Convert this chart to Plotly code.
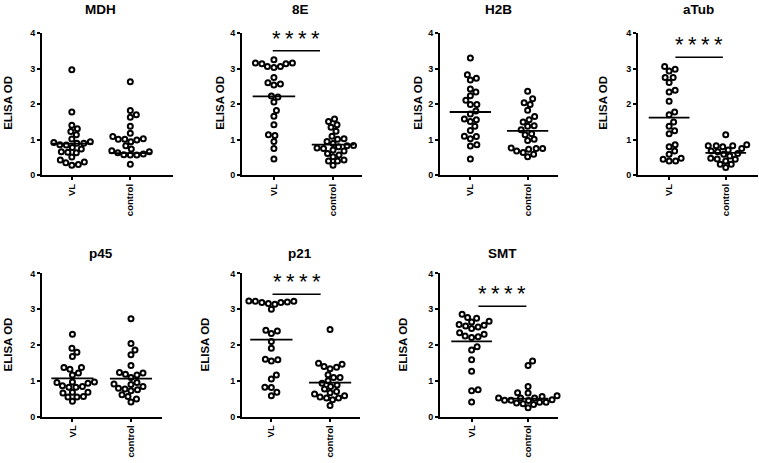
import numpy as np
import plotly.graph_objects as go

W, H = 759, 463

# ---------------- data ----------------
panels = ["MDH", "8E", "H2B", "aTub", "p45", "p21", "SMT"]
groups = ["VL", "control"]

MDH_VL = [2.97, 1.78, 1.41, 1.31, 1.23, 1.14, 1.02, 0.92, 0.90, 0.90, 0.94, 0.86, 0.85, 0.78, 0.74,
          0.65, 0.63, 0.66, 0.51, 0.43, 0.35, 0.37, 0.30, 0.28]
MDH_CTRL = [2.63, 1.82, 1.70, 1.63, 1.38, 1.18, 1.09, 1.03, 1.01, 0.99, 1.01, 0.94, 0.83, 0.74, 0.69,
            0.66, 0.63, 0.60, 0.57, 0.57, 0.58, 0.31]
E8_VL = [3.25, 3.16, 3.16, 3.14, 3.14, 3.06, 3.03, 3.06, 2.75, 2.60, 2.54, 2.57, 2.20, 2.23, 2.06,
         1.82, 1.66, 1.42, 1.14, 1.12, 0.95, 0.75, 0.46]
E8_CTRL = [1.58, 1.51, 1.42, 1.35, 1.24, 1.10, 1.03, 1.01, 0.95, 0.89, 0.84, 0.83, 0.80, 0.77, 0.75,
           0.71, 0.68, 0.61, 0.57, 0.52, 0.40, 0.40, 0.43, 0.28]
H2B_VL = [3.30, 2.83, 2.73, 2.68, 2.43, 2.34, 2.24, 2.11, 1.99, 1.99, 1.81, 1.72, 1.58, 1.56, 1.51,
          1.38, 1.26, 1.09, 1.10, 1.03, 0.86, 0.82, 0.46]
H2B_CTRL = [2.36, 2.15, 2.04, 1.99, 1.83, 1.65, 1.56, 1.50, 1.39, 1.38, 1.28, 1.17, 1.14, 1.01, 0.98,
            0.77, 0.75, 0.73, 0.75, 0.68, 0.64, 0.59, 0.52]
ATUB_VL = [3.06, 2.98, 2.93, 2.75, 2.75, 2.61, 2.39, 2.34, 2.08, 1.78, 1.70, 1.50, 1.38, 1.25, 1.17,
           0.86, 0.80, 0.68, 0.59, 0.48, 0.45, 0.40, 0.40]
ATUB_CTRL = [1.14, 0.83, 0.83, 0.86, 0.83, 0.71, 0.68, 0.66, 0.61, 0.59, 0.54, 0.48, 0.46, 0.45, 0.40,
             0.31, 0.31, 0.22, 0.75, 0.80]
P45_VL = [2.30, 1.91, 1.80, 1.68, 1.37, 1.37, 1.32, 1.22, 1.16, 0.97, 0.95, 0.97, 0.93, 0.84, 0.82,
          0.86, 0.82, 0.66, 0.68, 0.68, 0.56, 0.55, 0.55, 0.43]
P45_CTRL = [2.73, 2.04, 1.86, 1.73, 1.43, 1.23, 1.22, 1.16, 1.18, 1.09, 0.95, 0.91, 0.90, 0.84, 0.79,
            0.77, 0.75, 0.72, 0.61, 0.56, 0.49, 0.41]
P21_VL = [3.23, 3.20, 3.19, 3.16, 3.14, 3.19, 3.22, 3.22, 3.00, 2.39, 2.32, 2.41, 2.10, 1.91, 1.59,
          1.55, 1.60, 1.16, 1.05, 0.81, 0.82, 0.68, 0.58]
P21_CTRL = [2.43, 1.49, 1.40, 1.34, 1.38, 1.46, 1.17, 1.09, 1.09, 1.00, 0.93, 0.88, 0.84, 0.77, 0.70,
            0.67, 0.63, 0.58, 0.55, 0.52, 0.47, 0.52, 0.31]
SMT_VL = [2.86, 2.77, 2.75, 2.66, 2.64, 2.57, 2.55, 2.53, 2.50, 2.46, 2.34, 2.30, 2.25, 2.23, 2.21,
          1.95, 1.86, 1.59, 1.27, 0.75, 0.72, 0.41]
SMT_CTRL = [1.55, 1.43, 0.84, 0.67, 0.66, 0.58, 0.56, 0.52, 0.52, 0.52, 0.47, 0.46, 0.45, 0.46, 0.40,
            0.40, 0.36, 0.34, 0.25, 0.38]

values = [
    (MDH_VL, MDH_CTRL), (E8_VL, E8_CTRL), (H2B_VL, H2B_CTRL), (ATUB_VL, ATUB_CTRL),
    (P45_VL, P45_CTRL), (P21_VL, P21_CTRL), (SMT_VL, SMT_CTRL),
]
medians = [(0.89, 0.62), (2.22, 0.86), (1.78, 1.25), (1.62, 0.63), (1.07, 1.06), (2.15, 0.95), (2.10, 0.50)]
# significance bars: (x start, x end, y) or None
sig_bars = [None, (0.98, 1.78, 3.50), None, (1.11, 1.95, 3.32), None, (1.02, 1.84, 3.42), (1.12, 1.97, 3.08)]
sig_label = "*\u2009*\u2009*\u2009*"
y_ticks = [0, 1, 2, 3, 4]
y_title = "ELISA OD"

# ---------------- layout geometry (pixels) ----------------
# (x_left, x_right, y_top(4), y_bottom(0), xrange)
geom = [
    (42, 173, 28.7, 174.0, (0.49, 2.73)),
    (242, 362, 28.7, 174.0, (0.46, 2.49)),
    (440, 558, 28.7, 174.0, (0.47, 2.53)),
    (638, 758, 28.7, 174.0, (0.45, 2.57)),
    (42, 162, 274.3, 420.7, (0.48, 2.53)),
    (242, 360, 274.3, 420.7, (0.50, 2.51)),
    (440, 558, 274.3, 420.7, (0.44, 2.53)),
]
title_pos = [(101, 7), (300, 7), (498, 7), (698, 7), (101, 254), (300, 254), (502, 254)]
ylab_x = [8, 220, 418, 603, 8, 205, 403]
ylab_y = [100, 100, 100, 100, 347, 347, 347]


def swarm(vals, center, px_per_x, px_per_y, D=6.2):
    vals = np.asarray(vals, float)
    order = np.argsort(vals)
    placed = []
    xs = np.zeros(len(vals))
    for i in order:
        y = vals[i] * px_per_y
        chosen = None
        k = 0
        while chosen is None:
            cands = [0.0] if k == 0 else [k * 0.5, -k * 0.5]
            for s in cands:
                if all((s - px) ** 2 + (y - py) ** 2 >= D * D for px, py in placed):
                    chosen = s
                    break
            k += 1
        placed.append((chosen, y))
        xs[i] = center + chosen / px_per_x
    return xs


fig = go.Figure()
FONT = "Arial, Liberation Sans, sans-serif"
annotations = []

for p, name in enumerate(panels):
    xl, xr, yt, yb, xr_ = geom[p]
    ax = "" if p == 0 else str(p + 1)
    px_per_x = (xr - xl) / (xr_[1] - xr_[0])
    px_per_y = (yb - yt) / 4.0
    for g in range(2):
        v = values[p][g]
        xs = swarm(v, g + 1, px_per_x, px_per_y)
        fig.add_trace(go.Scatter(
            x=xs, y=v, mode="markers", xaxis="x" + ax, yaxis="y" + ax,
            marker=dict(symbol="circle-open", size=5, color="black", line=dict(width=2, color="black")),
            cliponaxis=False, showlegend=False, hoverinfo="y"))
        m = medians[p][g]
        fig.add_trace(go.Scatter(
            x=[g + 1 - 0.36, g + 1 + 0.36], y=[m, m], mode="lines", xaxis="x" + ax, yaxis="y" + ax,
            line=dict(color="black", width=1.8), cliponaxis=False, showlegend=False, hoverinfo="skip"))
    sb = sig_bars[p]
    if sb is not None:
        fig.add_trace(go.Scatter(
            x=[sb[0], sb[1]], y=[sb[2], sb[2]], mode="lines", xaxis="x" + ax, yaxis="y" + ax,
            line=dict(color="black", width=1.5), cliponaxis=False, showlegend=False, hoverinfo="skip"))
        annotations.append(dict(
            x=(sb[0] + sb[1]) / 2, y=sb[2], xref="x" + ax, yref="y" + ax, text=sig_label,
            showarrow=False, yanchor="middle", yshift=12.5,
            font=dict(family=FONT, size=22, color="black")))

    axis_common = dict(showline=True, linecolor="black", linewidth=1.8, ticks="outside",
                       ticklen=3, tickwidth=1.5, tickcolor="black", showgrid=False, zeroline=False)
    fig.layout["xaxis" + ax] = dict(
        domain=[xl / W, xr / W], range=list(xr_), anchor="y" + ax,
        tickmode="array", tickvals=[1, 2], ticktext=groups, tickangle=-90,
        tickfont=dict(family=FONT, size=9.5, color="black", weight="bold"), **axis_common)
    fig.layout["yaxis" + ax] = dict(
        domain=[1 - yb / H, 1 - yt / H], range=[0, 4], anchor="x" + ax,
        tickmode="array", tickvals=y_ticks,
        tickfont=dict(family=FONT, size=9, color="black", weight="bold"), **axis_common)

    tx, ty = title_pos[p]
    annotations.append(dict(x=tx / W, y=1 - ty / H, xref="paper", yref="paper", text=name,
                            showarrow=False, xanchor="center", yanchor="middle",
                            yshift=(2 if p < 4 else 0),
                            font=dict(family=FONT, size=13.5, color="black", weight="bold")))
    annotations.append(dict(x=ylab_x[p] / W, y=1 - ylab_y[p] / H, xref="paper", yref="paper",
                            text=y_title, textangle=-90, showarrow=False,
                            xanchor="center", yanchor="middle",
                            font=dict(family=FONT, size=11.5, color="black", weight="bold")))

fig.update_layout(width=W, height=H, margin=dict(l=0, r=0, t=0, b=0),
                  plot_bgcolor="white", paper_bgcolor="white", annotations=annotations,
                  showlegend=False)
fig.write_html("out.html", config={"displayModeBar": False},
               post_script="document.body.style.margin='0';")
